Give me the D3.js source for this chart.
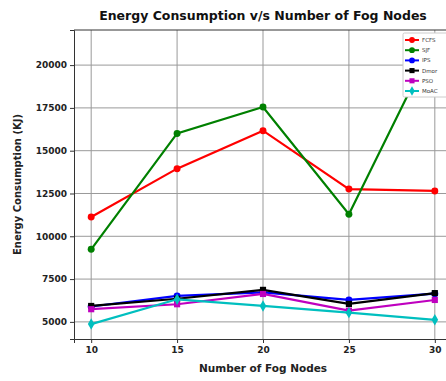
<!DOCTYPE html>
<html>
<head>
<meta charset="utf-8">
<script src="https://cdn.jsdelivr.net/npm/d3@7"></script>
<style>
  body { margin: 0; background: #fff; }
  text { font-family: "DejaVu Sans", sans-serif; }
</style>
</head>
<body>
<div id="chart"></div>
<script>
// Chart data
const nodes = [10, 15, 20, 25, 30];
const seriesNames = ['FCFS', 'SJF', 'IPS', 'Dmor', 'PSO', 'MoAC'];
const fcfs = [11130, 13950, 16170, 12760, 12650];
const sjf = [9240, 16010, 17550, 11290, 21450];
const ips = [5900, 6520, 6720, 6280, 6650];
const dmor = [5930, 6350, 6870, 6050, 6680];
const pso = [5740, 6030, 6630, 5660, 6280];
const moac = [4870, 6320, 5930, 5540, 5120];
const yTicks = [5000, 7500, 10000, 12500, 15000, 17500, 20000];

const colors = ['#ff0000', '#008000', '#0000ff', '#000000', '#bf00bf', '#00bfbf'];
const shapes = [d3.symbolCircle, d3.symbolCircle, d3.symbolCircle, d3.symbolSquare, d3.symbolSquare, d3.symbolDiamond];
const allValues = [fcfs, sjf, ips, dmor, pso, moac];

const W = 446, H = 381;
const margin = { top: 30, right: -6, bottom: 42, left: 74 };
const width = W - margin.left - margin.right;
const height = H - margin.top - margin.bottom;

const x = d3.scaleLinear().domain([9, 31]).range([0, width]);
const y = d3.scaleLinear().domain([4000, 22050]).range([height, 0]);

const svg = d3.select('#chart').append('svg')
  .attr('width', W)
  .attr('height', H);

svg.append('text')
  .attr('x', margin.left + x(20))
  .attr('y', 20)
  .attr('text-anchor', 'middle')
  .attr('font-weight', 'bold')
  .attr('font-size', 12.5)
  .attr('fill', '#111')
  .text('Energy Consumption v/s Number of Fog Nodes');

const g = svg.append('g')
  .attr('transform', `translate(${margin.left},${margin.top})`);

// grid
g.append('g').selectAll('line')
  .data(yTicks).enter().append('line')
  .attr('x1', 0).attr('x2', width)
  .attr('y1', d => y(d)).attr('y2', d => y(d))
  .attr('stroke', '#999').attr('stroke-width', 1);
g.append('g').selectAll('line')
  .data(nodes).enter().append('line')
  .attr('y1', 0).attr('y2', height)
  .attr('x1', d => x(d)).attr('x2', d => x(d))
  .attr('stroke', '#999').attr('stroke-width', 1);

// axes
const xAxis = g.append('g')
  .attr('transform', `translate(0,${height})`)
  .call(d3.axisBottom(x).tickValues(nodes).tickSize(4).tickPadding(4));
const yAxis = g.append('g')
  .call(d3.axisLeft(y).tickValues(yTicks).tickSize(4).tickPadding(3).tickFormat(d3.format('d')));
[xAxis, yAxis].forEach(a => {
  a.selectAll('text').attr('font-weight', 'bold').attr('font-size', 9)
    .attr('font-family', '"DejaVu Sans", sans-serif').attr('fill', '#222');
  a.select('.domain').attr('stroke', '#333');
  a.selectAll('.tick line').attr('stroke', '#333');
});
g.append('line')
  .attr('x1', 0).attr('x2', width).attr('y1', 0).attr('y2', 0)
  .attr('stroke', '#333');

svg.append('text')
  .attr('x', margin.left + x(20))
  .attr('y', 372)
  .attr('text-anchor', 'middle')
  .attr('font-weight', 'bold')
  .attr('font-size', 10.5)
  .attr('fill', '#222')
  .text('Number of Fog Nodes');

svg.append('text')
  .attr('transform', `translate(21,${margin.top + height / 2}) rotate(-90)`)
  .attr('text-anchor', 'middle')
  .attr('font-weight', 'bold')
  .attr('font-size', 10)
  .attr('fill', '#222')
  .text('Energy Consumption (KJ)');

// series
const line = d3.line()
  .x((d, i) => x(nodes[i]))
  .y(d => y(d));

allValues.forEach((vals, k) => {
  g.append('path')
    .datum(vals)
    .attr('fill', 'none')
    .attr('stroke', colors[k])
    .attr('stroke-width', 2.2)
    .attr('d', line);
  g.selectAll('.pt' + k)
    .data(vals).enter().append('path')
    .attr('transform', (d, i) => `translate(${x(nodes[i])},${y(d)})`)
    .attr('d', d3.symbol().type(shapes[k]).size(38))
    .attr('fill', colors[k]);
});

// legend
const leg = svg.append('g').attr('transform', 'translate(403,33)');
leg.append('rect')
  .attr('x', 0).attr('y', 0).attr('width', 50).attr('height', 64)
  .attr('fill', '#fff').attr('stroke', '#ccc').attr('rx', 1.5);
seriesNames.forEach((name, k) => {
  const ly = 7 + k * 10.2;
  leg.append('line')
    .attr('x1', 2).attr('x2', 16).attr('y1', ly).attr('y2', ly)
    .attr('stroke', colors[k]).attr('stroke-width', 2);
  leg.append('path')
    .attr('transform', `translate(9,${ly})`)
    .attr('d', d3.symbol().type(shapes[k]).size(26))
    .attr('fill', colors[k]);
  leg.append('text')
    .attr('x', 19).attr('y', ly + 2)
    .attr('font-size', 5.5)
    .attr('fill', '#333')
    .text(name);
});
</script>
</body>
</html>
